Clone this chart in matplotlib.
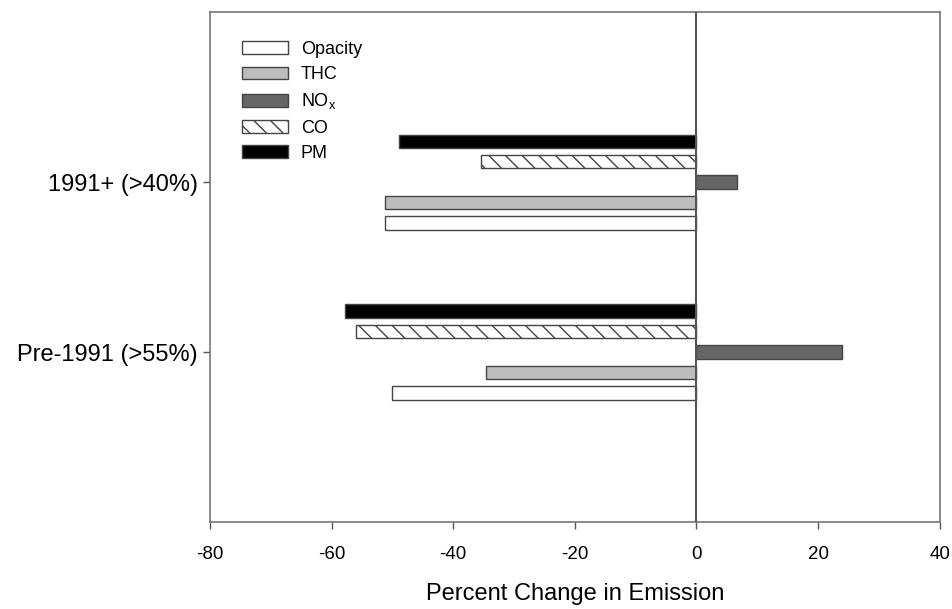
import matplotlib
matplotlib.use("Agg")
import matplotlib.pyplot as plt
import numpy as np

plt.rcParams['font.family'] = ['Liberation Sans', 'DejaVu Sans']
plt.rcParams['hatch.color'] = "#333333"
plt.rcParams['hatch.linewidth'] = 1.0

categories = ["Pre-1991 (>55%)", "1991+ (>40%)"]
series = ["Opacity", "THC", r"NO$_\mathregular{x}$", "CO", "PM"]
opacity = [-50.0, -51.2]
thc = [-34.6, -51.2]
nox = [23.9, 6.6]
co = [-56.0, -35.4]
pm = [-57.8, -48.9]
xticks = [-80, -60, -40, -20, 0, 20, 40]

values = [opacity, thc, nox, co, pm]
faces = ["white", "#bdbdbd", "#666666", "white", "black"]
hatches = [None, None, None, "\\\\", None]
offsets = [-0.24, -0.12, 0.0, 0.12, 0.24]

fig = plt.figure(figsize=(9.52, 6.09), dpi=100)
ax = fig.add_axes([0.2206, 0.143, 0.7664, 0.837])

y = np.arange(len(categories))
for vals, fc, h, off, name in zip(values, faces, hatches, offsets, series):
    ax.barh(y + off, vals, height=0.08, color=fc, edgecolor="#444444",
            linewidth=1.0, hatch=h, label=name)

ax.axvline(0, color="#555555", linewidth=1.5, zorder=3)
ax.set_xlim(-80, 40)
ax.set_ylim(-1, 2)
ax.set_xticks(xticks)
ax.set_xticklabels([str(t) for t in xticks], fontsize=13.5)
ax.set_yticks(y)
ax.set_yticklabels(categories, fontsize=17)
ax.tick_params(axis='both', direction='out', length=5, color="#555555", width=1)
ax.tick_params(axis='x', pad=12)
ax.tick_params(axis='y', pad=4)
for s in ax.spines.values():
    s.set_color("#777777")
    s.set_linewidth(1.2)
ax.set_xlabel("Percent Change in Emission", fontsize=17, labelpad=15)

handles, labels = ax.get_legend_handles_labels()
leg = ax.legend(handles, labels, loc="upper left", bbox_to_anchor=(0.022, 0.975),
                frameon=False, fontsize=13, handlelength=2.55, handleheight=0.72,
                labelspacing=0.45, handletextpad=0.7)

fig.savefig("out.png", dpi=100)
